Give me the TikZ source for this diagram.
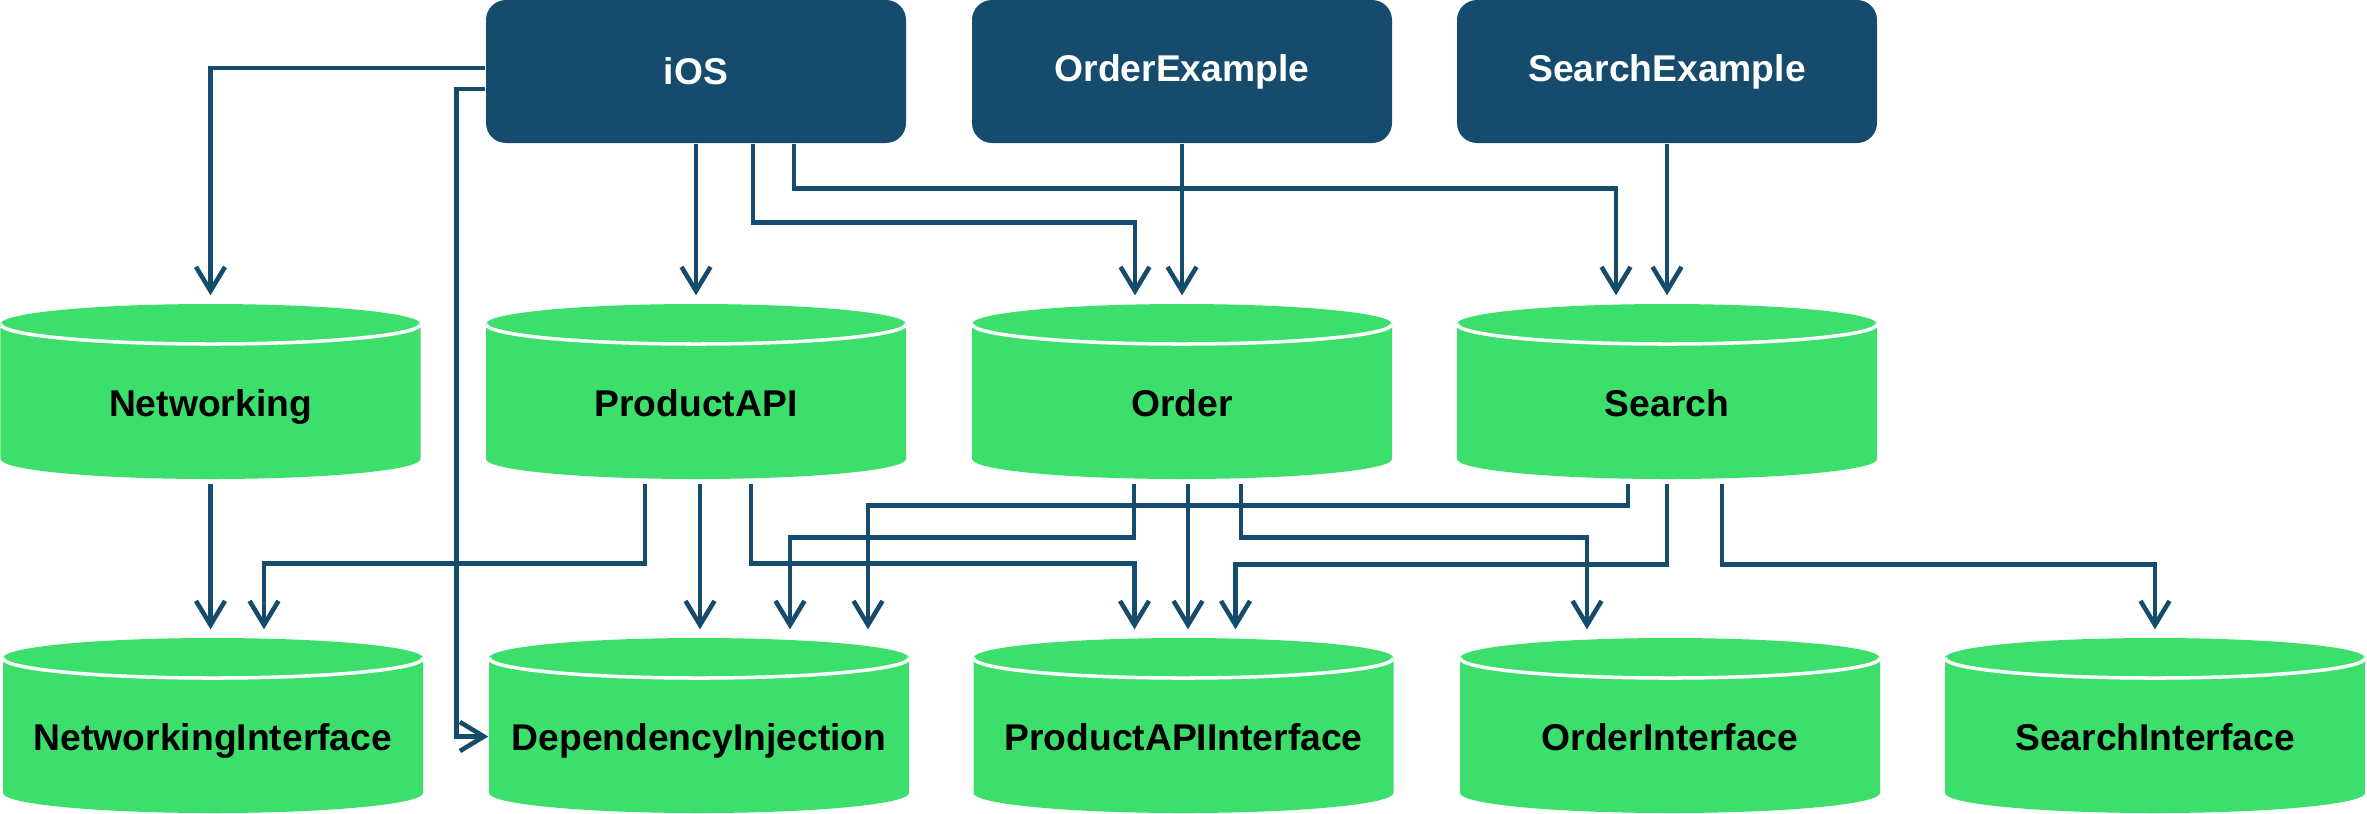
\documentclass[tikz,border=0pt]{standalone}
\usepackage{fontspec}
\setmainfont{Liberation Sans}
\usetikzlibrary{arrows.meta, calc}
\definecolor{appblue}{RGB}{21, 75, 108}
\definecolor{modgreen}{RGB}{61, 223, 108}
\tikzstyle{appbox} = [rectangle, fill=appblue, text=white, font=\fontsize{10.6}{12}\selectfont\bfseries, minimum width=4.2cm, minimum height=1.43cm, rounded corners=2mm, inner sep=0pt]
\tikzstyle{module} = [rectangle, inner sep=0pt, minimum width=4.2cm, text height=1.12cm, text depth=0.63cm, font=\fontsize{10.6}{12}\selectfont\bfseries,
    path picture={
        \coordinate (cnw) at (path picture bounding box.north west);
        \coordinate (cse) at (path picture bounding box.south east);
        \fill[modgreen] ($(cnw)+(0,-2mm)$) -- ($(cnw |- cse)+(0,2mm)$) arc[start angle=180, end angle=360, x radius=2.1cm, y radius=2mm] -- ($(cse |- cnw)+(0,-2mm)$) -- cycle;
        \fill[modgreen] ($(cnw)!0.5!(cse |- cnw)+(0,-2mm)$) ellipse[x radius=2.1cm, y radius=2mm];
        \draw[white, line width=1pt] ($(cnw)+(0,-2mm)$) arc[start angle=180, end angle=360, x radius=2.1cm, y radius=2mm];
    }]
\tikzstyle{arrow} = [-{Straight Barb[length=2.4mm, width=2.9mm]}, line width=1.3pt, draw=appblue, shorten >=0.8mm]

\begin{document}
\begin{tikzpicture}
    \useasboundingbox (0,0) rectangle (23.67,-8.13);

    % Example apps
    \node[appbox] (ios) at (6.96,-0.715) {iOS};
    \node[appbox] (ordex) at (11.82,-0.715) {OrderExample};
    \node[appbox] (srchex) at (16.67,-0.715) {SearchExample};

    % Feature modules
    \node[module] (net) at (2.105,-3.915) {Networking};
    \node[module] (prod) at (6.96,-3.915) {ProductAPI};
    \node[module] (ord) at (11.82,-3.915) {Order};
    \node[module] (srch) at (16.67,-3.915) {Search};

    % Interface modules
    \node[module] (netif) at (2.13,-7.255) {NetworkingInterface};
    \node[module] (di) at (6.99,-7.255) {DependencyInjection};
    \node[module] (pif) at (11.835,-7.255) {ProductAPIInterface};
    \node[module] (oif) at (16.70,-7.255) {OrderInterface};
    \node[module] (sif) at (21.55,-7.255) {SearchInterface};

    % Apps to modules
    \draw[arrow] ([yshift=0.35mm]ios.west) -| (net.north);
    \draw[arrow, shorten >=0pt] ([yshift=-1.75mm]ios.west) -- ++(-0.29,0) |- ([yshift=-1.1mm]di.west);
    \draw[arrow] (ios.south) -- (prod.north);
    \draw[arrow] ([xshift=5.7mm]ios.south) -- ++(0,-0.79) -| ([xshift=-4.7mm]ord.north);
    \draw[arrow] ([xshift=9.8mm]ios.south) -- ++(0,-0.45) -| ([xshift=-5.1mm]srch.north);
    \draw[arrow] (ordex.south) -- (ord.north);
    \draw[arrow] (srchex.south) -- (srch.north);

    % Modules to interfaces
    \draw[arrow, shorten <=0.4mm] (net.south) -- (net.south |- netif.north);
    \draw[arrow, shorten <=0.4mm] ([xshift=-5.1mm]prod.south) -- ++(0,-0.84) -| ([xshift=5.1mm]netif.north);
    \draw[arrow, shorten <=0.4mm] ([xshift=0.4mm]prod.south) -- ([xshift=0.4mm]prod.south |- di.north);
    \draw[arrow, shorten <=0.4mm] ([xshift=5.5mm]prod.south) -- ++(0,-0.84) -| ([xshift=-4.9mm]pif.north);
    \draw[arrow, shorten <=0.4mm] ([xshift=-4.8mm]ord.south) -- ++(0,-0.58) -| ([xshift=9.1mm]di.north);
    \draw[arrow, shorten <=0.4mm] ([xshift=0.6mm]ord.south) -- ([xshift=0.6mm]ord.south |- pif.north);
    \draw[arrow, shorten <=0.4mm] ([xshift=5.9mm]ord.south) -- ++(0,-0.58) -| ([xshift=-8.3mm]oif.north);
    \draw[arrow, shorten <=0.4mm] ([xshift=-3.9mm]srch.south) -- ++(0,-0.26) -| ([xshift=16.9mm]di.north);
    \draw[arrow, shorten <=0.4mm] (srch.south) -- ++(0,-0.85) -| ([xshift=5.2mm]pif.north);
    \draw[arrow, shorten <=0.4mm] ([xshift=5.5mm]srch.south) -- ++(0,-0.85) -| (sif.north);
\end{tikzpicture}
\end{document}
